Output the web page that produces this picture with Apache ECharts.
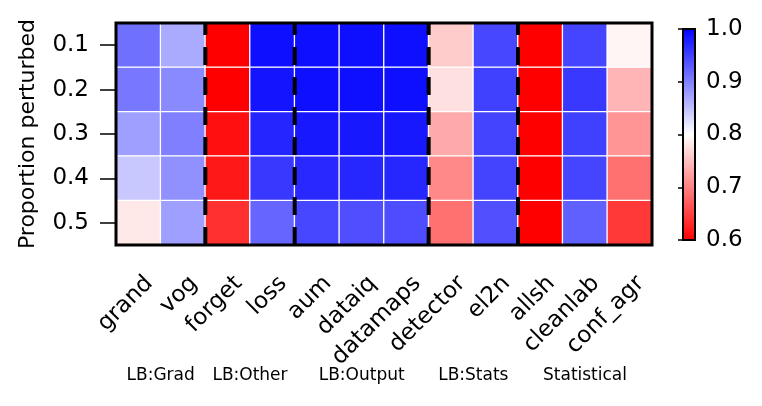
<!DOCTYPE html>
<html><head><meta charset="utf-8">
<script src="https://cdn.jsdelivr.net/npm/echarts@6/dist/echarts.min.js"></script>
<style>html,body{margin:0;padding:0;background:#fff}#c{width:762px;height:406px}</style>
</head><body><div id="c"></div>
<script>
// ---- data ----
const methods = ['grand','vog','forget','loss','aum','dataiq','datamaps','detector','el2n','allsh','cleanlab','conf_agr'];
const proportions = ['0.1','0.2','0.3','0.4','0.5'];
// one array per method, rows = proportion perturbed 0.1 .. 0.5
const grand    = [0.912, 0.906, 0.875, 0.843, 0.782];
const vog      = [0.867, 0.892, 0.900, 0.887, 0.875];
const forget   = [0.600, 0.600, 0.612, 0.619, 0.638];
const loss     = [0.988, 0.984, 0.971, 0.956, 0.920];
const aum      = [0.988, 0.988, 0.981, 0.969, 0.944];
const dataiq   = [0.988, 0.988, 0.981, 0.970, 0.938];
const datamaps = [0.988, 0.988, 0.981, 0.970, 0.940];
const detector = [0.760, 0.776, 0.733, 0.707, 0.688];
const el2n     = [0.944, 0.950, 0.947, 0.947, 0.937];
const allsh    = [0.600, 0.600, 0.600, 0.600, 0.600];
const cleanlab = [0.946, 0.956, 0.950, 0.946, 0.925];
const conf_agr = [0.792, 0.742, 0.717, 0.688, 0.644];
const columns = [grand, vog, forget, loss, aum, dataiq, datamaps, detector, el2n, allsh, cleanlab, conf_agr];

const groupNames  = ['LB:Grad','LB:Other','LB:Output','LB:Stats','Statistical'];
const groupStarts = [0, 2, 4, 7, 9];
const groupEnds   = [2, 4, 7, 9, 12];
const separators  = [2, 4, 7, 9];

const colorMin = 0.6, colorMax = 1.0;
const colorStops = ['#ff0000', '#ffffff', '#0000ff'];

// ---- build ----
const heatData = [];
columns.forEach((col, c) => col.forEach((v, r) => heatData.push([c, r, v])));

const FONT = 'DejaVu Sans';
const FS = 23;
const chart = echarts.init(document.getElementById('c'), null, {renderer: 'canvas'});

const sepSeries = separators.map(s => ({
  type: 'line', xAxisIndex: 1, yAxisIndex: 1, z: 4, silent: true,
  symbol: 'none', animation: false,
  data: [[s, proportions.length], [s, 0]],
  lineStyle: {color: '#000', width: 4, type: [18, 12], cap: 'butt'}
}));

const option = {
  animation: false,
  backgroundColor: '#fff',
  grid: [
    {left: 116, top: 23, width: 536, height: 222},
    {left: 683, top: 29, width: 12, height: 211}
  ],
  visualMap: {
    type: 'continuous', show: false, min: colorMin, max: colorMax,
    seriesIndex: 0, dimension: 2, inRange: {color: colorStops}
  },
  xAxis: [
    {
      type: 'category', gridIndex: 0, data: methods,
      axisLine: {show: false},
      axisTick: {show: true, alignWithLabel: true, length: 16, lineStyle: {color: '#000', width: 1.5}},
      axisLabel: {rotate: 45, fontSize: FS, color: '#000', fontFamily: FONT, margin: 24,
                  verticalAlign: 'top', padding: [4, 0, 0, 0], interval: 0},
      splitLine: {show: false}
    },
    {type: 'value', gridIndex: 0, min: 0, max: methods.length, show: false},
    {type: 'value', gridIndex: 1, min: 0, max: 1, show: false}
  ],
  yAxis: [
    {
      type: 'category', gridIndex: 0, data: proportions, inverse: true,
      axisLine: {show: false},
      axisTick: {show: true, alignWithLabel: true, length: 16, lineStyle: {color: '#000', width: 1.5}},
      axisLabel: {fontSize: FS, color: '#000', fontFamily: FONT, margin: 27},
      name: 'Proportion perturbed', nameLocation: 'middle', nameGap: 77,
      nameTextStyle: {fontSize: 22, color: '#000', fontFamily: FONT},
      splitLine: {show: false}
    },
    {type: 'value', gridIndex: 0, min: 0, max: proportions.length, inverse: true, show: false},
    {
      type: 'value', gridIndex: 1, min: colorMin, max: colorMax, interval: 0.1, position: 'left',
      axisLine: {show: false},
      axisTick: {show: true, length: 5, lineStyle: {color: '#000', width: 1.5}},
      axisLabel: {inside: true, margin: 23, fontSize: FS, color: '#000', fontFamily: FONT,
                  formatter: v => v.toFixed(1)},
      splitLine: {show: false}
    }
  ],
  series: [
    {
      type: 'heatmap', xAxisIndex: 0, yAxisIndex: 0, data: heatData,
      itemStyle: {borderColor: '#ffffff', borderWidth: 1.3},
      emphasis: {disabled: true}, silent: true
    },
    ...sepSeries,
    {
      type: 'custom', xAxisIndex: 1, yAxisIndex: 1, z: 5, silent: true,
      data: [[0, 0, methods.length, proportions.length]],
      renderItem: (params, api) => {
        const p0 = api.coord([api.value(0), api.value(1)]);
        const p1 = api.coord([api.value(2), api.value(3)]);
        return {type: 'rect', shape: {x: p0[0], y: p0[1], width: p1[0] - p0[0], height: p1[1] - p0[1]},
                style: {fill: 'none', stroke: '#000', lineWidth: 3}};
      }
    },
    {
      type: 'custom', xAxisIndex: 1, yAxisIndex: 1, z: 5, silent: true, clip: false,
      data: groupNames.map((n, i) => [(groupStarts[i] + groupEnds[i]) / 2, proportions.length]),
      renderItem: (params, api) => {
        const p = api.coord([api.value(0), api.value(1)]);
        return {type: 'text', x: p[0], y: p[1] + 131,
                style: {text: groupNames[params.dataIndex], fontSize: 17, fontFamily: FONT, fill: '#000',
                        align: 'center', verticalAlign: 'middle'}};
      }
    },
    {
      type: 'custom', xAxisIndex: 2, yAxisIndex: 2, z: 5, silent: true, clip: false,
      data: [[0, colorMax, 1, colorMin]],
      renderItem: (params, api) => {
        const p0 = api.coord([api.value(0), api.value(1)]);
        const p1 = api.coord([api.value(2), api.value(3)]);
        return {type: 'rect', shape: {x: p0[0], y: p0[1], width: p1[0] - p0[0], height: p1[1] - p0[1]},
                style: {
                  fill: new echarts.graphic.LinearGradient(0, 0, 0, 1, [
                    {offset: 0, color: colorStops[2]},
                    {offset: 0.5, color: colorStops[1]},
                    {offset: 1, color: colorStops[0]}
                  ]),
                  stroke: '#000', lineWidth: 2
                }};
      }
    }
  ]
};
chart.setOption(option);
</script>
</body></html>
